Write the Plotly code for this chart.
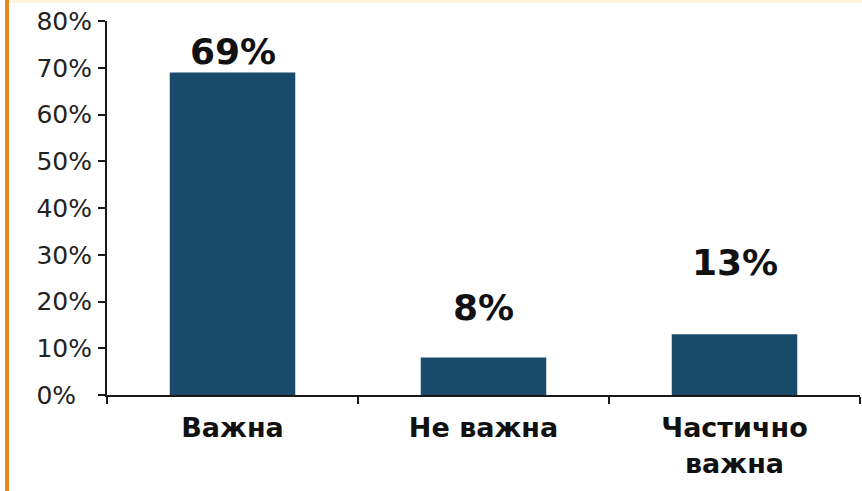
import plotly.graph_objects as go

# Survey answers and their shares (%)
categories = ["Важна", "Не важна", "Частично<br>важна"]
shares = [69, 8, 13]
y_ticks = [0, 10, 20, 30, 40, 50, 60, 70, 80]
# labels are left-aligned: pad the short one with a figure space
y_tick_labels = [f"{t}%".ljust(3, "\u2007") for t in y_ticks]

# pixel lift of each value label above its bar top
label_lift = [21, 50, 72]

BAR_COLOR = "#1a4a6b"
AXIS_COLOR = "#1a1a1a"

fig = go.Figure()
fig.add_trace(go.Bar(
    x=categories,
    y=shares,
    marker=dict(color=BAR_COLOR, line=dict(width=0)),
    hoverinfo="skip",
))

for cat, val, lift in zip(categories, shares, label_lift):
    fig.add_annotation(
        x=cat, y=val, yshift=lift,
        text=f"<b>{val}%</b>",
        showarrow=False,
        yanchor="middle",
        font=dict(family="DejaVu Sans", size=36, color="#111111"),
    )

# orange frame on the left edge and pale strip along the top
W, L, R = 862, 107, 2
H, T, B = 491, 21, 96
pw, ph = W - L - R, H - T - B


def px_x(px):
    return (px - L) / pw


def px_y(py):
    return (H - B - py) / ph


fig.add_shape(type="rect", xref="paper", yref="paper",
              x0=px_x(5), x1=px_x(9), y0=px_y(H), y1=px_y(0),
              fillcolor="#e8891c", line=dict(width=0), layer="above")
fig.add_shape(type="rect", xref="paper", yref="paper",
              x0=px_x(9), x1=px_x(W), y0=px_y(3), y1=px_y(0),
              fillcolor="#fff6dc", line=dict(width=0), layer="above")

fig.update_layout(
    width=W, height=H,
    margin=dict(l=L, r=R, t=T, b=B, pad=0),
    paper_bgcolor="white",
    plot_bgcolor="white",
    showlegend=False,
    bargap=0.5,
    font=dict(family="DejaVu Sans", color=AXIS_COLOR),
)

fig.update_xaxes(
    type="category",
    showgrid=False,
    showline=True, linecolor=AXIS_COLOR, linewidth=2,
    ticks="outside", tickson="boundaries", ticklen=7, tickwidth=2, tickcolor=AXIS_COLOR,
    tickfont=dict(family="DejaVu Sans", size=27, color="#111111", weight="bold"),
    ticklabelstandoff=8,
)

fig.update_yaxes(
    range=[0, 80],
    tickvals=y_ticks,
    ticktext=y_tick_labels,
    showgrid=False,
    zeroline=False,
    showline=True, linecolor=AXIS_COLOR, linewidth=2,
    ticks="outside", ticklen=7, tickwidth=2, tickcolor=AXIS_COLOR,
    tickfont=dict(family="DejaVu Sans", size=25, color="#222222"),
    ticklabelstandoff=1,
)

fig.write_html("out.html")
